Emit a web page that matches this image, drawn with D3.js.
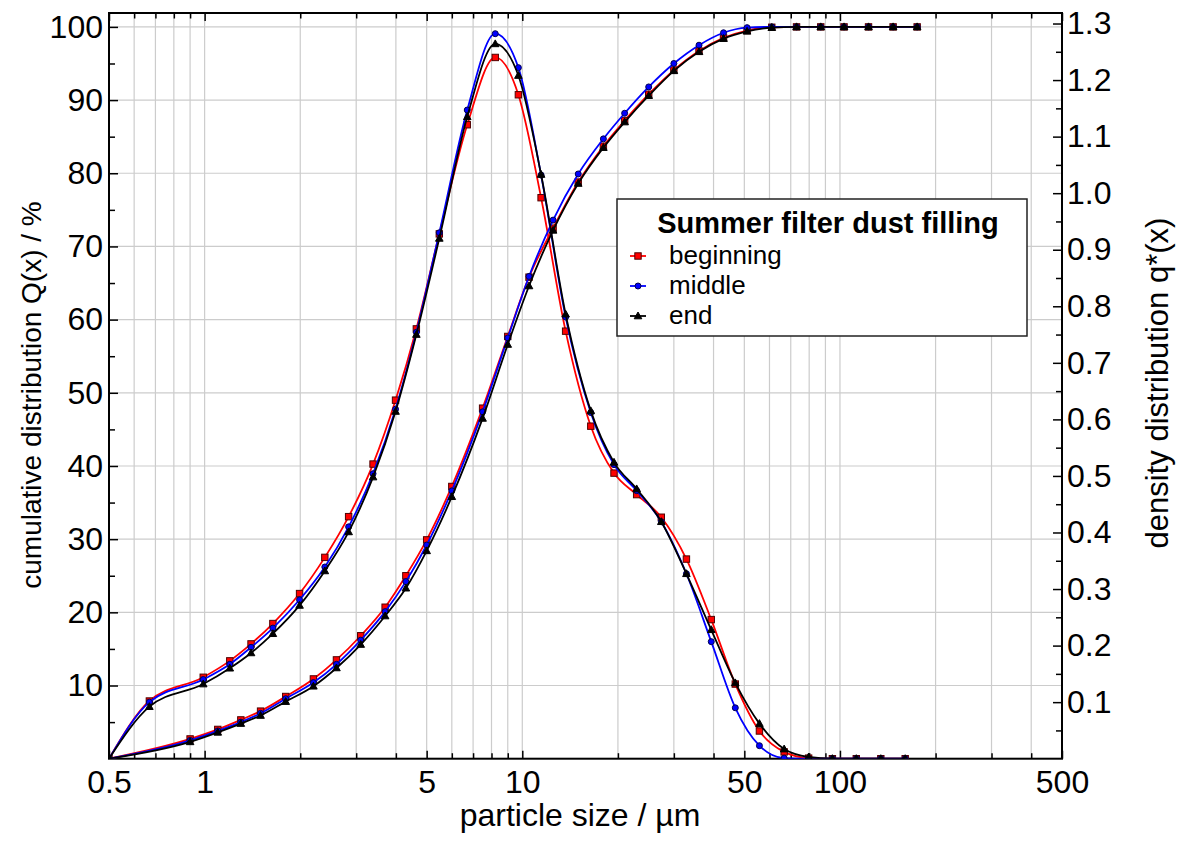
<!DOCTYPE html>
<html>
  <head>
    <script src='https://d3js.org/d3.v7.min.js'></script>
    <style type='text/css'>
      body, html { margin: 0; padding: 0; background: #fff; }
      svg { display: block; }
      text { font-family: 'Liberation Sans', Arial, sans-serif; fill: #000; }
    </style>
  </head>
  <body>
    <svg width='1178' height='841'></svg>
    <script type='text/javascript'>
      // class boundaries (Q is given at these), class means (q* is given at these)
      var classBounds = [0.5, 0.9, 1.1, 1.3, 1.5, 1.8, 2.2, 2.6, 3.1, 3.7, 4.3, 5.0, 6.0, 7.5, 9.0, 10.5, 12.5,
        15, 18, 21, 25, 30, 36, 43, 51, 61, 73, 87, 103, 123, 147, 175]
      var classMeans = [0.5, 0.67, 0.99, 1.2, 1.4, 1.64, 1.99, 2.39, 2.84, 3.39, 3.99, 4.64, 5.48, 6.71, 8.22, 9.72,
        11.46, 13.69, 16.43, 19.44, 22.91, 27.39, 32.86, 39.34, 46.83, 55.78, 66.73, 79.69, 94.66, 112.56, 134.47, 160.44]

      var seriesNames = ['beginning', 'middle', 'end']

      // cumulative distribution Q(x) / %
      var cumBeginning = [0, 2.7, 4.0, 5.3, 6.5, 8.5, 10.9, 13.5, 16.8, 20.7, 25.0, 29.9, 37.2, 47.9, 57.7, 65.8, 72.5,
        78.8, 83.7, 87.2, 90.8, 94.1, 96.7, 98.5, 99.5, 99.95, 100, 100, 100, 100, 100, 100]
      var cumMiddle = [0, 2.5, 3.8, 5.0, 6.2, 8.2, 10.4, 12.9, 16.2, 20.1, 24.2, 29.2, 36.6, 47.4, 57.5, 65.9, 73.6,
        79.9, 84.7, 88.2, 91.8, 95.0, 97.5, 99.2, 99.9, 100, 100, 100, 100, 100, 100, 100]
      var cumEnd = [0, 2.3, 3.6, 4.8, 5.9, 7.8, 9.9, 12.4, 15.6, 19.5, 23.3, 28.4, 35.8, 46.5, 56.6, 64.6, 72.2,
        78.6, 83.5, 87.0, 90.6, 94.0, 96.6, 98.4, 99.4, 99.9, 100, 100, 100, 100, 100, 100]

      // density distribution q*(x)
      var densBeginning = [0, 0.102, 0.144, 0.173, 0.203, 0.239, 0.292, 0.356, 0.428, 0.521, 0.634, 0.760, 0.928, 1.121,
        1.240, 1.174, 0.992, 0.756, 0.588, 0.505, 0.467, 0.427, 0.353, 0.246, 0.132, 0.049, 0.012, 0.001, 0, 0, 0, 0]
      var densMiddle = [0, 0.100, 0.140, 0.167, 0.197, 0.231, 0.281, 0.339, 0.410, 0.504, 0.618, 0.754, 0.930, 1.147,
        1.282, 1.222, 1.032, 0.781, 0.612, 0.520, 0.474, 0.419, 0.327, 0.207, 0.090, 0.023, 0.001, 0, 0, 0, 0, 0]
      var densEnd = [0, 0.092, 0.132, 0.160, 0.187, 0.221, 0.271, 0.332, 0.401, 0.498, 0.614, 0.750, 0.920, 1.135,
        1.264, 1.208, 1.033, 0.786, 0.615, 0.524, 0.477, 0.419, 0.327, 0.228, 0.134, 0.062, 0.017, 0.003, 0, 0, 0, 0]

      var xMajor = [0.5, 1, 5, 10, 50, 100, 500]
      var xMinor = [0.6, 0.7, 0.8, 0.9, 2, 3, 4, 6, 7, 8, 9, 20, 30, 40, 60, 70, 80, 90, 200, 300, 400]
      var leftTicks = [10, 20, 30, 40, 50, 60, 70, 80, 90, 100]
      var rightTicks = [0.1, 0.2, 0.3, 0.4, 0.5, 0.6, 0.7, 0.8, 0.9, 1.0, 1.1, 1.2, 1.3]

      var series = [
        {name: seriesNames[0], cum: cumBeginning, dens: densBeginning, color: '#ff0000', edge: '#500000', shape: 'square'},
        {name: seriesNames[1], cum: cumMiddle, dens: densMiddle, color: '#0000ff', edge: '#000050', shape: 'circle'},
        {name: seriesNames[2], cum: cumEnd, dens: densEnd, color: '#000000', edge: '#000000', shape: 'triangle'}
      ]

      var svg = d3.select('svg')
      var L = 109, R = 1062, T = 13, B = 758.7

      var x = d3.scaleLog().domain([0.5, 500]).range([L, R])
      var yL = d3.scaleLinear().domain([0, 101.9]).range([B, T])
      var yR = d3.scaleLinear().domain([0, 1.3186]).range([B, T])

      // grid
      var grid = svg.append('g').attr('stroke', '#cccccc').attr('stroke-width', 1.2)
      grid.selectAll('.vg').data(xMajor.concat(xMinor).filter(function(d) { return d > 0.5 && d < 500 }))
        .enter().append('line')
          .attr('x1', function(d) { return x(d) }).attr('x2', function(d) { return x(d) })
          .attr('y1', T).attr('y2', B)
      grid.selectAll('.hg').data(leftTicks)
        .enter().append('line')
          .attr('x1', L).attr('x2', R)
          .attr('y1', function(d) { return yL(d) }).attr('y2', function(d) { return yL(d) })

      // axes
      function styleAxis(g, size) {
        g.select('.domain').remove()
        g.selectAll('line').attr('stroke', '#000').attr('stroke-width', 1.5)
        g.selectAll('text').style('font-size', size + 'px').style('font-family', "'Liberation Sans', Arial, sans-serif")
      }

      var fmt = function(d) { return String(d) }

      svg.append('g').attr('transform', 'translate(0,' + B + ')')
        .call(d3.axisBottom(x).tickValues(xMajor).tickFormat(fmt).tickSize(-8).tickPadding(12))
        .call(styleAxis, 32)
      svg.append('g').attr('transform', 'translate(0,' + B + ')')
        .call(d3.axisBottom(x).tickValues(xMinor).tickFormat('').tickSize(-5.5))
        .call(styleAxis, 32)
      svg.append('g').attr('transform', 'translate(0,' + T + ')')
        .call(d3.axisTop(x).tickValues(xMajor).tickFormat('').tickSize(-8))
        .call(styleAxis, 32)
      svg.append('g').attr('transform', 'translate(0,' + T + ')')
        .call(d3.axisTop(x).tickValues(xMinor).tickFormat('').tickSize(-5.5))
        .call(styleAxis, 32)

      svg.append('g').attr('transform', 'translate(' + L + ',0)')
        .call(d3.axisLeft(yL).tickValues(leftTicks).tickSize(-9).tickPadding(6))
        .call(styleAxis, 32)
      svg.append('g').attr('transform', 'translate(' + L + ',0)')
        .call(d3.axisLeft(yL).tickValues(d3.range(5, 100, 10)).tickFormat('').tickSize(-6))
        .call(styleAxis, 32)
      svg.append('g').attr('transform', 'translate(' + R + ',0)')
        .call(d3.axisRight(yR).tickValues(rightTicks).tickFormat(d3.format('.1f')).tickSize(-9).tickPadding(5))
        .call(styleAxis, 32)
      svg.append('g').attr('transform', 'translate(' + R + ',0)')
        .call(d3.axisRight(yR).tickValues(d3.range(0.05, 1.3, 0.1)).tickFormat('').tickSize(-6))
        .call(styleAxis, 32)

      // frame
      svg.append('rect').attr('x', L).attr('y', T).attr('width', R - L).attr('height', B - T)
        .attr('fill', 'none').attr('stroke', '#000').attr('stroke-width', 2)

      // clip
      svg.append('clipPath').attr('id', 'plot-clip')
        .append('rect').attr('x', L).attr('y', T - 6).attr('width', R - L).attr('height', B - T + 6)

      var plot = svg.append('g').attr('clip-path', 'url(#plot-clip)')

      function drawMarker(sel, s) {
        if (s.shape === 'square') {
          sel.append('rect').attr('x', -3.2).attr('y', -3.2).attr('width', 6.4).attr('height', 6.4)
        } else if (s.shape === 'circle') {
          sel.append('circle').attr('r', 3)
        } else {
          sel.append('path').attr('d', 'M0,-4L3.8,2.8L-3.8,2.8Z')
        }
        sel.attr('fill', s.color).attr('stroke', s.edge).attr('stroke-width', 1)
      }

      series.forEach(function(s) {
        var densPts = classMeans.map(function(d, i) { return [x(d), yR(s.dens[i])] })
        var cumPts = classBounds.map(function(d, i) { return [x(d), yL(s.cum[i])] })
        var line = d3.line().curve(d3.curveMonotoneX)

        plot.append('path').attr('d', line(densPts))
          .attr('fill', 'none').attr('stroke', s.color).attr('stroke-width', 1.8)
        plot.append('path').attr('d', line(cumPts))
          .attr('fill', 'none').attr('stroke', s.color).attr('stroke-width', 1.8)

        plot.selectAll(null).data(densPts.slice(1).concat(cumPts)).enter().append('g')
          .attr('transform', function(p) { return 'translate(' + p[0] + ',' + p[1] + ')' })
          .each(function() { drawMarker(d3.select(this), s) })
      })

      // axis titles
      svg.append('text').attr('x', 580).attr('y', 826).attr('text-anchor', 'middle')
        .style('font-size', '32px').text('particle size / µm')
      svg.append('text').attr('transform', 'translate(31,395) rotate(-90)').attr('dy', '0.35em')
        .attr('text-anchor', 'middle').style('font-size', '28px').text('cumulative distribution Q(x) / %')
      svg.append('text').attr('transform', 'translate(1157,383) rotate(-90)').attr('dy', '0.35em')
        .attr('text-anchor', 'middle').style('font-size', '31px').text('density distribution q*(x)')

      // legend
      var lg = svg.append('g')
      lg.append('rect').attr('x', 617).attr('y', 199).attr('width', 410).attr('height', 137)
        .attr('fill', '#fff').attr('stroke', '#222').attr('stroke-width', 1.5)
      lg.append('text').attr('x', 828).attr('y', 233).attr('text-anchor', 'middle')
        .style('font-size', '29px').style('font-weight', 'bold').text('Summer filter dust filling')
      series.forEach(function(s, i) {
        var by = 264 + i * 30
        lg.append('line').attr('x1', 630).attr('x2', 646).attr('y1', by - 8).attr('y2', by - 8)
          .attr('stroke', s.color).attr('stroke-width', 1.8)
        var m = lg.append('g').attr('transform', 'translate(638,' + (by - 8) + ')')
        drawMarker(m, s)
        lg.append('text').attr('x', 669).attr('y', by).style('font-size', '26px').text(s.name)
      })
    </script>
  </body>
</html>
